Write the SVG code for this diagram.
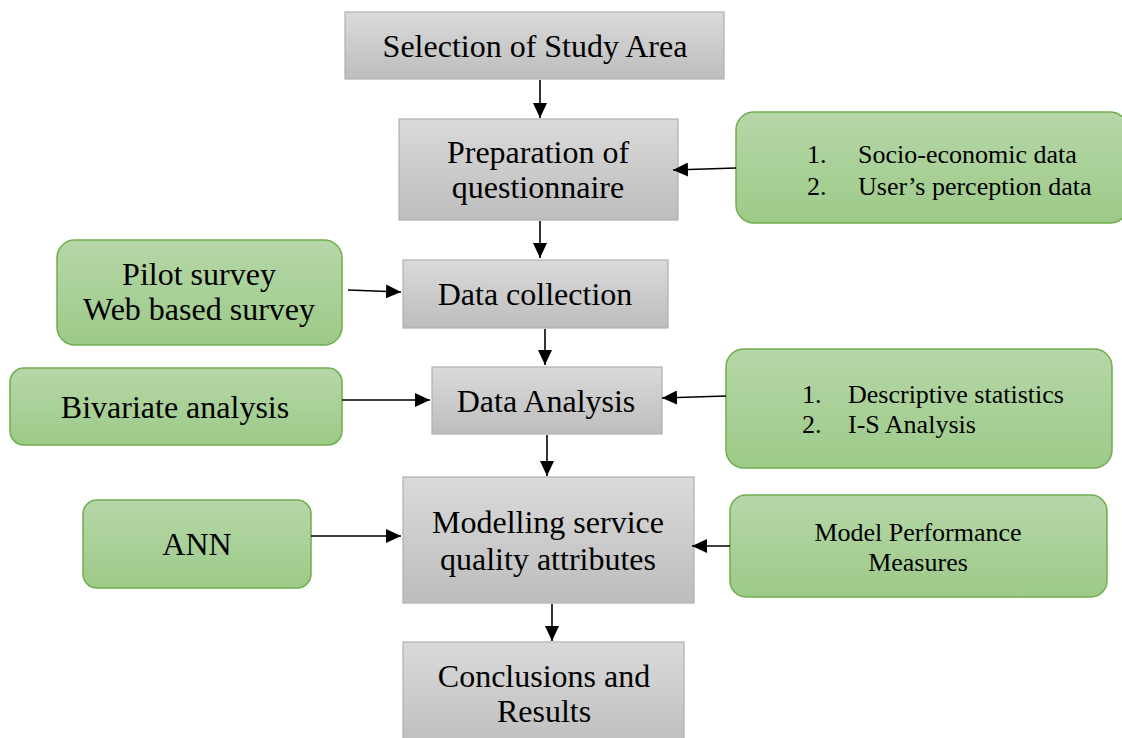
<svg xmlns="http://www.w3.org/2000/svg" width="1122" height="738" viewBox="0 0 1122 738">
  <defs>
    <linearGradient id="gradGray" x1="0" y1="0" x2="0" y2="1">
      <stop offset="0" stop-color="#dadada"/>
      <stop offset="1" stop-color="#bdbdbd"/>
    </linearGradient>
    <linearGradient id="gradGreen" x1="0" y1="0" x2="0" y2="1">
      <stop offset="0" stop-color="#b6d7a8"/>
      <stop offset="1" stop-color="#9dca88"/>
    </linearGradient>
    <marker id="arrow" viewBox="0 0 15 14" refX="15" refY="7" markerWidth="15" markerHeight="14" markerUnits="userSpaceOnUse" orient="auto">
      <path d="M0,0 L15,7 L0,14 Z" fill="#000"/>
    </marker>
    <style>
      .step { fill: url(#gradGray); stroke: #b0b0b0; stroke-width: 1.2; }
      .input { fill: url(#gradGreen); stroke: #72ad4f; stroke-width: 1.5; }
      .big { font-family: "Liberation Serif", "Times New Roman", serif; font-size: 32px; fill: #000; text-anchor: middle; }
      .small { font-family: "Liberation Serif", "Times New Roman", serif; font-size: 26px; fill: #000; }
      .mid { text-anchor: middle; }
      .link { stroke: #000; stroke-width: 1.6; fill: none; marker-end: url(#arrow); }
    </style>
  </defs>

  <!-- main process steps -->
  <g id="selection">
    <rect class="step" x="345" y="12" width="379" height="67"/>
    <text class="big" x="535" y="57">Selection of Study Area</text>
  </g>
  <g id="questionnaire">
    <rect class="step" x="399" y="119" width="279" height="101"/>
    <text class="big" x="538" y="163">Preparation of</text>
    <text class="big" x="538" y="198">questionnaire</text>
  </g>
  <g id="collection">
    <rect class="step" x="403" y="260" width="265" height="68"/>
    <text class="big" x="535" y="305">Data collection</text>
  </g>
  <g id="analysis">
    <rect class="step" x="432" y="367" width="230" height="67"/>
    <text class="big" x="546" y="412">Data Analysis</text>
  </g>
  <g id="modelling">
    <rect class="step" x="403" y="477" width="291" height="126"/>
    <text class="big" x="548" y="533">Modelling service</text>
    <text class="big" x="548" y="570">quality attributes</text>
  </g>
  <g id="conclusions">
    <rect class="step" x="403" y="642" width="281" height="110"/>
    <text class="big" x="544" y="687">Conclusions and</text>
    <text class="big" x="544" y="722">Results</text>
  </g>

  <!-- supporting inputs -->
  <g id="data-types">
    <rect class="input" x="736" y="112" width="392" height="111" rx="18"/>
    <text class="small" x="807" y="163">1.</text>
    <text class="small" x="858" y="163">Socio-economic data</text>
    <text class="small" x="807" y="195">2.</text>
    <text class="small" x="858" y="195">User’s perception data</text>
  </g>
  <g id="surveys">
    <rect class="input" x="57" y="240" width="285" height="105" rx="18"/>
    <text class="big" x="199" y="285">Pilot survey</text>
    <text class="big" x="199" y="320">Web based survey</text>
  </g>
  <g id="bivariate">
    <rect class="input" x="10" y="368" width="332" height="77" rx="14"/>
    <text class="big" x="175" y="418">Bivariate analysis</text>
  </g>
  <g id="statistics">
    <rect class="input" x="726" y="349" width="386" height="119" rx="18"/>
    <text class="small" x="802" y="403">1.</text>
    <text class="small" x="848" y="403">Descriptive statistics</text>
    <text class="small" x="802" y="433">2.</text>
    <text class="small" x="848" y="433">I-S Analysis</text>
  </g>
  <g id="ann">
    <rect class="input" x="83" y="500" width="228" height="88" rx="14"/>
    <text class="big" x="197" y="555">ANN</text>
  </g>
  <g id="performance">
    <rect class="input" x="730" y="495" width="377" height="102" rx="16"/>
    <text class="small mid" x="918" y="541">Model Performance</text>
    <text class="small mid" x="918" y="571">Measures</text>
  </g>

  <!-- connectors -->
  <g id="connectors">
    <line class="link" x1="540" y1="80" x2="540" y2="118"/>
    <line class="link" x1="540" y1="221" x2="540" y2="258"/>
    <line class="link" x1="545" y1="329" x2="545" y2="365"/>
    <line class="link" x1="547" y1="435" x2="547" y2="476"/>
    <line class="link" x1="552" y1="604" x2="552" y2="641"/>
    <line class="link" x1="736" y1="168" x2="673" y2="170"/>
    <line class="link" x1="348" y1="290" x2="401" y2="292"/>
    <line class="link" x1="342" y1="400" x2="430" y2="400"/>
    <line class="link" x1="726" y1="396" x2="662" y2="398"/>
    <line class="link" x1="311" y1="536" x2="401" y2="536"/>
    <line class="link" x1="730" y1="546" x2="692" y2="546"/>
  </g>
</svg>
